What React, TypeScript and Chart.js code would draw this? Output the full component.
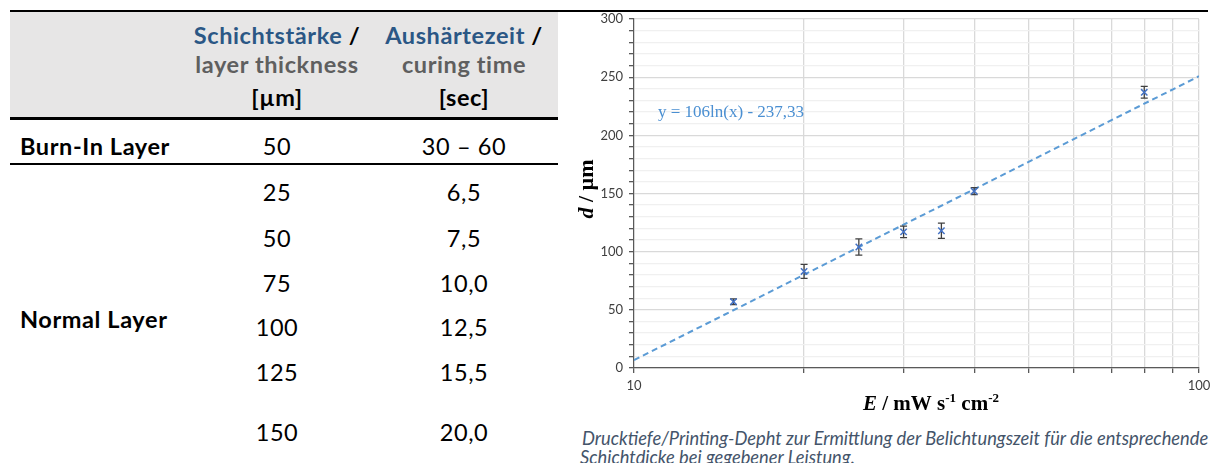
import React, { useEffect, useRef } from "react";
import { Chart, registerables } from "chart.js";

Chart.register(...registerables);

// ---------- table data ----------
const HEADER_DE = ["Schichtstärke", "Aushärtezeit"];
const HEADER_EN = ["layer thickness", "curing time"];
const HEADER_UNIT = ["[µm]", "[sec]"];
const BURN_IN_LABEL = "Burn-In Layer";
const BURN_IN_VALUES = ["50", "30 – 60"];
const NORMAL_LABEL = "Normal Layer";
const NORMAL_THICKNESS = ["25", "50", "75", "100", "125", "150"];
const NORMAL_TIME = ["6,5", "7,5", "10,0", "12,5", "15,5", "20,0"];

// ---------- chart data ----------
const E_VALUES = [15, 20, 25, 30, 35, 40, 80];
const D_VALUES = [57, 83, 104, 117, 118, 152, 237];
const D_ERRORS = [2.5, 6, 7, 5, 6.5, 3, 5];
const TREND_SLOPE = 106;
const TREND_INTERCEPT = -237.33;
const X_RANGE = [10, 100];
const X_GRID_VALUES = [10, 20, 30, 40, 50, 60, 70, 80, 90, 100];
const X_TICK_LABELS = [10, 100];
const Y_RANGE = [0, 300];
const Y_LABEL_STEP = 50;
const Y_MINOR_STEP = 10;

const CAPTION_LINES = [
  "Drucktiefe/Printing-Depht zur Ermittlung der Belichtungszeit für die entsprechende",
  "Schichtdicke bei gegebener Leistung.",
];

// ---------- layout ----------
const COL_CENTERS = [277, 464];
const NORMAL_ROW_Y = [192, 238, 283, 327, 372, 432];
const TABLE_FONT = "Lato, 'Open Sans', sans-serif";

type Part = { t: string; italic?: boolean; sup?: boolean };

function drawParts(ctx: CanvasRenderingContext2D, parts: Part[], cx: number, cy: number, size: number) {
  const supSize = Math.round(size * 0.6);
  const fontFor = (p: Part) =>
    `${p.italic ? "italic " : ""}bold ${p.sup ? supSize : size}px "Liberation Serif", "Times New Roman", serif`;
  let total = 0;
  for (const p of parts) {
    ctx.font = fontFor(p);
    total += ctx.measureText(p.t).width;
  }
  let x = cx - total / 2;
  ctx.textBaseline = "alphabetic";
  ctx.textAlign = "left";
  for (const p of parts) {
    ctx.font = fontFor(p);
    ctx.fillText(p.t, x, cy + size * 0.35 - (p.sup ? size * 0.38 : 0));
    x += ctx.measureText(p.t).width;
  }
}

const textPlugin = {
  id: "customText",
  afterDatasetDraw(chart: any, args: any) {
    if (args.index !== 1) return;
    const ctx = chart.ctx as CanvasRenderingContext2D;
    const xs = chart.scales.x;
    const ys = chart.scales.y;
    ctx.save();
    ctx.strokeStyle = "#404040";
    ctx.lineWidth = 1.3;
    E_VALUES.forEach((e, i) => {
      const px = xs.getPixelForValue(e);
      const top = ys.getPixelForValue(D_VALUES[i] + D_ERRORS[i]);
      const bot = ys.getPixelForValue(D_VALUES[i] - D_ERRORS[i]);
      ctx.beginPath();
      ctx.moveTo(px, top);
      ctx.lineTo(px, bot);
      ctx.moveTo(px - 3.5, top);
      ctx.lineTo(px + 3.5, top);
      ctx.moveTo(px - 3.5, bot);
      ctx.lineTo(px + 3.5, bot);
      ctx.stroke();
    });
    ctx.restore();
  },
  afterDraw(chart: any) {
    const ctx = chart.ctx as CanvasRenderingContext2D;
    const area = chart.chartArea;
    const ys = chart.scales.y;
    ctx.save();
    // trend equation
    ctx.font = '17px "Liberation Serif", "Times New Roman", serif';
    ctx.fillStyle = "#4a8fd2";
    ctx.textBaseline = "middle";
    ctx.textAlign = "left";
    const eq = `y = ${TREND_SLOPE}ln(x) - ${Math.abs(TREND_INTERCEPT).toFixed(2).replace(".", ",")}`;
    ctx.fillText(eq, area.left + 24, ys.getPixelForValue(219.5));
    // x title
    ctx.fillStyle = "#000000";
    drawParts(
      ctx,
      [{ t: "E", italic: true }, { t: " / mW s" }, { t: "-1", sup: true }, { t: " cm" }, { t: "-2", sup: true }],
      361,
      403,
      21
    );
    // y title
    ctx.translate(15, 189);
    ctx.rotate(-Math.PI / 2);
    drawParts(ctx, [{ t: "d", italic: true }, { t: " / µm" }], 0, 0, 22);
    ctx.restore();
  },
};

function ChartBox() {
  const ref = useRef<HTMLCanvasElement>(null);
  useEffect(() => {
    if (!ref.current) return;
    const points = E_VALUES.map((e, i) => ({ x: e, y: D_VALUES[i] }));
    const trend = X_RANGE.map((x) => ({ x, y: TREND_SLOPE * Math.log(x) + TREND_INTERCEPT }));
    const chart = new Chart(ref.current, {
      type: "scatter",
      data: {
        datasets: [
          {
            label: "d",
            data: points,
            pointStyle: "crossRot",
            pointRadius: 4.5,
            pointBorderWidth: 1.5,
            borderColor: "#4472c4",
            backgroundColor: "#4472c4",
            showLine: false,
          },
          {
            label: "trend",
            data: trend,
            showLine: true,
            pointRadius: 0,
            borderColor: "#5b9bd5",
            borderWidth: 2,
            borderDash: [6, 4],
          },
        ],
      },
      options: {
        responsive: false,
        animation: false,
        devicePixelRatio: 1,
        layout: { padding: { top: 19, right: 20, left: 0, bottom: 0 } },
        plugins: { legend: { display: false }, tooltip: { enabled: false }, title: { display: false } },
        scales: {
          x: {
            type: "logarithmic",
            min: X_RANGE[0],
            max: X_RANGE[1],
            afterBuildTicks: (s: any) => {
              s.ticks = X_GRID_VALUES.map((v) => ({ value: v }));
            },
            afterFit: (s: any) => {
              s.height = 52;
            },
            border: { color: "#595959", width: 1.2 },
            grid: {
              color: "#d9d9d9",
              lineWidth: 1.3,
              tickLength: 5,
              tickColor: "#595959",
            },
            ticks: {
              autoSkip: false,
              maxRotation: 0,
              padding: 5,
              color: "#404040",
              font: { family: "Lato, sans-serif", size: 13 },
              callback: (v: any) => (X_TICK_LABELS.includes(Number(v)) ? String(v) : ""),
            },
          },
          y: {
            min: Y_RANGE[0],
            max: Y_RANGE[1],
            afterFit: (s: any) => {
              s.width = 64;
            },
            border: { color: "#595959", width: 1.2 },
            grid: {
              color: (c: any) => (c.tick && c.tick.value % Y_LABEL_STEP === 0 ? "#d9d9d9" : "#f0f0f0"),
              lineWidth: 1.3,
              tickLength: 5,
              tickColor: "#595959",
            },
            ticks: {
              stepSize: Y_MINOR_STEP,
              autoSkip: false,
              padding: 6,
              color: "#404040",
              font: { family: "Lato, sans-serif", size: 13 },
              callback: (v: any) => (Number(v) % Y_LABEL_STEP === 0 ? String(v) : ""),
            },
          },
        },
      },
      plugins: [textPlugin],
    } as any);
    return () => chart.destroy();
  }, []);
  return (
    <canvas
      ref={ref}
      width={649}
      height={420}
      style={{ position: "absolute", left: 570, top: 0, width: 649, height: 420 }}
    />
  );
}

const abs = (x: number, y: number, align: "center" | "left", extra: React.CSSProperties = {}): React.CSSProperties => ({
  position: "absolute",
  left: x,
  top: y,
  transform: align === "center" ? "translate(-50%, -50%)" : "translate(0, -50%)",
  whiteSpace: "nowrap",
  fontFamily: TABLE_FONT,
  fontSize: 23.5,
  letterSpacing: "0.6px",
  lineHeight: "28px",
  color: "#000",
  ...extra,
});

export default function App() {
  return (
    <div
      style={{
        position: "absolute",
        left: 0,
        top: 0,
        width: 1219,
        height: 463,
        overflow: "hidden",
        background: "#fff",
      }}
    >
      {/* header background */}
      <div style={{ position: "absolute", left: 10, top: 12, width: 548, height: 105, background: "#e7e6e6" }} />
      <ChartBox />
      {/* rules */}
      <div style={{ position: "absolute", left: 10, top: 10, width: 1198, height: 2, background: "#000" }} />
      <div style={{ position: "absolute", left: 10, top: 117, width: 548, height: 3, background: "#000" }} />
      <div style={{ position: "absolute", left: 10, top: 163, width: 548, height: 2, background: "#000" }} />

      {COL_CENTERS.map((cx, i) => (
        <React.Fragment key={i}>
          <div style={abs(cx, 35, "center", { fontWeight: 700 })}>
            <span style={{ color: "#2b5785" }}>{HEADER_DE[i]}</span> /
          </div>
          <div style={abs(cx, 64, "center", { fontWeight: 700, color: "#5f5f5f" })}>{HEADER_EN[i]}</div>
          <div style={abs(cx, 97, "center", { fontWeight: 700 })}>{HEADER_UNIT[i]}</div>
          <div style={abs(cx, 146, "center")}>{BURN_IN_VALUES[i]}</div>
        </React.Fragment>
      ))}
      <div style={abs(20, 146, "left", { fontWeight: 700 })}>{BURN_IN_LABEL}</div>
      <div style={abs(20, 319, "left", { fontWeight: 700 })}>{NORMAL_LABEL}</div>
      {NORMAL_ROW_Y.map((y, r) => (
        <React.Fragment key={r}>
          <div style={abs(COL_CENTERS[0], y, "center")}>{NORMAL_THICKNESS[r]}</div>
          <div style={abs(COL_CENTERS[1], y, "center")}>{NORMAL_TIME[r]}</div>
        </React.Fragment>
      ))}
      {CAPTION_LINES.map((line, i) => (
        <div
          key={i}
          style={abs(i === 0 ? 582 : 580, 438 + i * 19, "left", {
            fontStyle: "italic",
            fontSize: 18.3,
            letterSpacing: "0px",
            lineHeight: "20px",
            color: "#44546a",
          })}
        >
          {line}
        </div>
      ))}
    </div>
  );
}
